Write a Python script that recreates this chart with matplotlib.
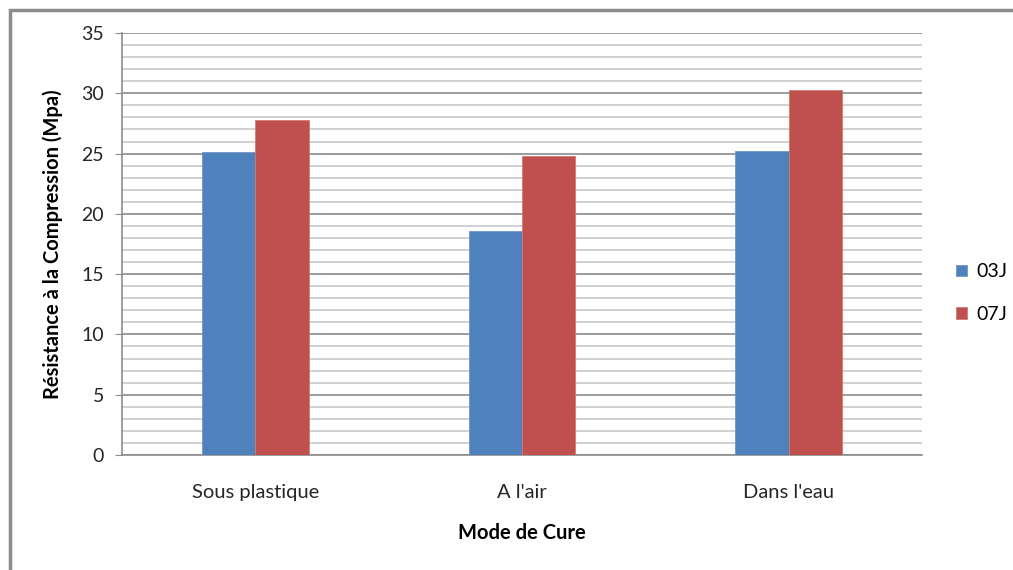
import numpy as np
import matplotlib.pyplot as plt
from matplotlib.patches import Rectangle

plt.rcParams['font.family'] = ['Lato', 'DejaVu Sans']

# Compressive strength by curing mode
modes = ["Sous plastique", "A l'air", "Dans l'eau"]
series_names = ["03J", "07J"]
strength_03j = [25.1, 18.6, 25.2]
strength_07j = [27.8, 24.8, 30.3]
colors = ["#4F81BD", "#C0504D"]

fig = plt.figure(figsize=(10.13, 5.70), dpi=100)
ax = fig.add_axes([122 / 1013, 1 - 455 / 570, 800 / 1013, 422 / 570])

# outer chart border
fig.patches.append(Rectangle((10 / 1013, -0.1), 1.2, 1 - 10 / 570 + 0.1,
                             transform=fig.transFigure, fill=False,
                             edgecolor="#8c8c8c", linewidth=2.5))

x = np.arange(len(modes))
w = 0.2
h1 = ax.bar(x - w / 2, strength_03j, w, color=colors[0], edgecolor="#6f95c9",
            linewidth=0.6, label=series_names[0], zorder=3)
h2 = ax.bar(x + w / 2, strength_07j, w, color=colors[1], edgecolor="#d07a78",
            linewidth=0.6, label=series_names[1], zorder=3)

ax.set_xlim(-0.5, 2.5)
ax.set_ylim(0, 35)
ax.set_yticks(np.arange(0, 36, 5))
ax.set_yticks(np.arange(0, 36, 1), minor=True)
ax.grid(axis='y', which='major', color="#8c8c8c", linewidth=1.2, zorder=0)
ax.grid(axis='y', which='minor', color="#c8c8c8", linewidth=1.2, zorder=0)

ax.set_xticks(x)
ax.set_xticklabels(modes, fontsize=14.5, color="#262626")
ax.tick_params(axis='x', length=0, pad=21)
ax.tick_params(axis='y', which='major', length=5, color="#8c8c8c",
               labelsize=14, labelcolor="#262626", pad=8)
ax.tick_params(axis='y', which='minor', length=0)

for side in ['top', 'right']:
    ax.spines[side].set_visible(False)
ax.spines['left'].set_color("#8c8c8c")
ax.spines['bottom'].set_color("#8c8c8c")
ax.spines['left'].set_linewidth(1.2)
ax.spines['bottom'].set_linewidth(1.2)

ax.set_ylabel("Résistance à la Compression (Mpa)", fontsize=14.5,
              fontweight='bold', labelpad=13)
ax.set_xlabel("Mode de Cure", fontsize=14.5, fontweight='bold', labelpad=16)

fig.legend(handles=[h1, h2], labels=series_names, loc='center left',
           bbox_to_anchor=(956 / 1013, 1 - 293 / 570), frameon=False,
           fontsize=14, handlelength=0.55, handleheight=0.55,
           handletextpad=0.5, labelspacing=1.3, borderpad=0,
           borderaxespad=0)

fig.savefig("out.png", dpi=100)
